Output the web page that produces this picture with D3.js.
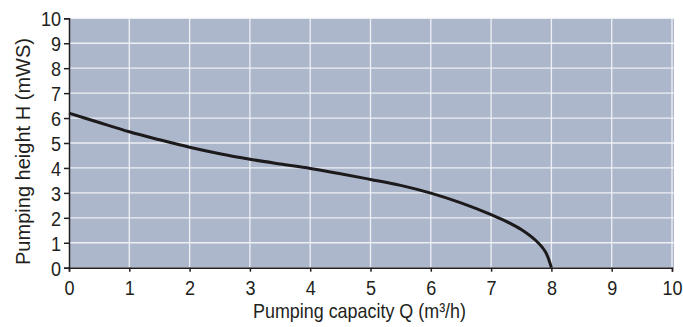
<!DOCTYPE html>
<html><head><meta charset="utf-8">
<script src="https://cdn.jsdelivr.net/npm/d3@7"></script>
<style>
body{margin:0;background:#fff;}
text{font-family:"Liberation Sans",Arial,sans-serif;fill:#231f20;}
</style></head>
<body><svg id="c" width="683" height="327"></svg>
<script>
const flowQ = [0,0.5,1,1.5,2,2.5,3,3.5,4,4.5,5,5.5,6,6.5,7,7.25,7.5,7.75,7.9,8];
const headH = [6.2,5.82,5.45,5.13,4.83,4.57,4.35,4.16,3.98,3.77,3.54,3.3,2.99,2.6,2.13,1.86,1.53,1.07,0.64,0];
const xTicks = [0,1,2,3,4,5,6,7,8,9,10];
const yTicks = [0,1,2,3,4,5,6,7,8,9,10];
const xTitle = "Pumping capacity Q (m\u00B3/h)";
const yTitle = "Pumping height H (mWS)";

const svg = d3.select("#c");
const L=69, R=672, T=18.3, B=267.7;
const SX=0.86;
const x = d3.scaleLinear().domain([0,10]).range([L,R]);
const y = d3.scaleLinear().domain([0,10]).range([B,T]);

svg.append("rect").attr("x",L).attr("y",T).attr("width",R-L+2).attr("height",B-T).attr("fill","#adb7cc");

const g = svg.append("g");
g.selectAll(".vg").data(xTicks.slice(1)).enter().append("line")
 .attr("x1",d=>x(d)).attr("x2",d=>x(d)).attr("y1",T).attr("y2",B)
 .attr("stroke","#eef0f5").attr("stroke-width",1.3);
g.selectAll(".hg").data(yTicks.slice(1)).enter().append("line")
 .attr("x1",L).attr("x2",R+2).attr("y1",d=>y(d)).attr("y2",d=>y(d))
 .attr("stroke","#eef0f5").attr("stroke-width",1.3);

const line = d3.line().x((d,i)=>x(flowQ[i])).y(d=>y(d)).curve(d3.curveCatmullRom.alpha(0.5));
svg.append("path").datum(headH).attr("d",line).attr("fill","none")
 .attr("stroke","#1c1a1b").attr("stroke-width",3).attr("stroke-linecap","butt");

const xa = svg.append("g").attr("transform",`translate(0,${B})`)
 .call(d3.axisBottom(x).tickValues(xTicks).tickSize(4).tickFormat(d3.format("d")));
const ya = svg.append("g").attr("transform",`translate(${L},0)`)
 .call(d3.axisLeft(y).tickValues(yTicks).tickSize(5).tickFormat(d3.format("d")));
[xa,ya].forEach(a=>{
  a.select(".domain").attr("stroke","#231f20").attr("stroke-width",1.5);
  a.selectAll(".tick line").attr("stroke","#231f20").attr("stroke-width",1.5);
  a.selectAll("text").attr("font-size",21).attr("font-family",null).attr("fill","#231f20")
   .attr("transform",`scale(${SX},1)`);
});
xa.selectAll("text").attr("y",27.3).attr("dy",0);
ya.selectAll("text").attr("x",-8/SX).attr("dy","0.36em");

svg.append("text").attr("x",359.5).attr("y",318).attr("text-anchor","middle")
 .attr("font-size",21).attr("textLength",213).attr("lengthAdjust","spacingAndGlyphs").text(xTitle);
svg.append("text").attr("transform",`translate(30,151.5) rotate(-90)`).attr("text-anchor","middle")
 .attr("font-size",21).attr("textLength",227).attr("lengthAdjust","spacingAndGlyphs").text(yTitle);
</script></body></html>
